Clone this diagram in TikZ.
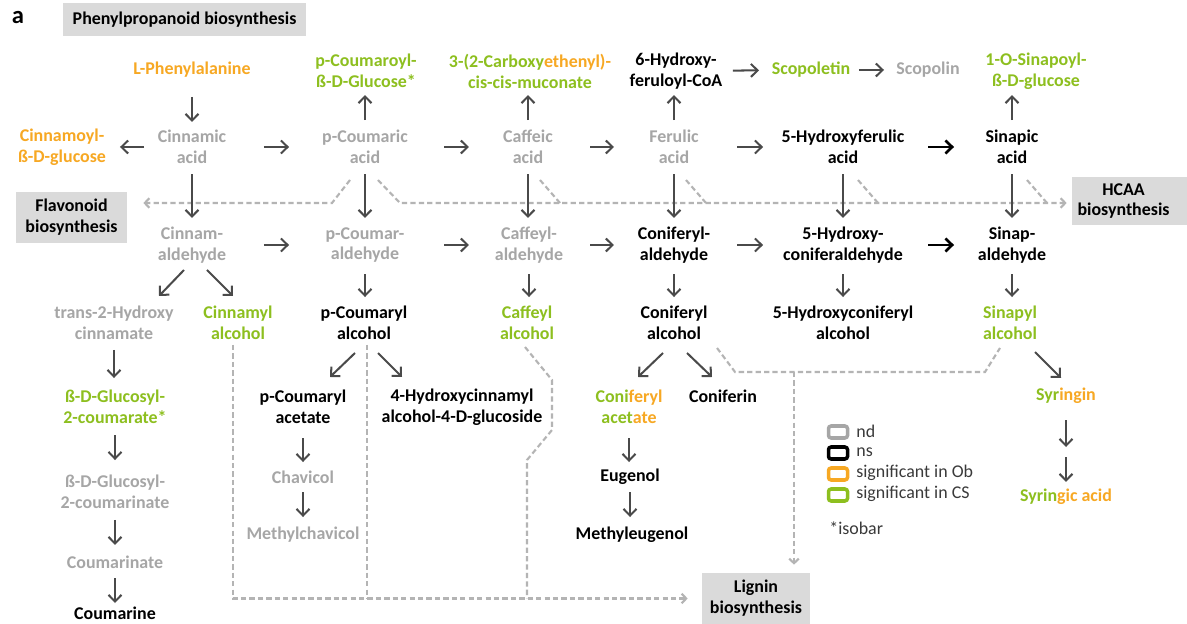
\documentclass[tikz,border=0pt]{standalone}
\usepackage{fontspec}
\setmainfont{Carlito}
\usetikzlibrary{arrows.meta,calc}
\definecolor{ora}{HTML}{F7A823}
\definecolor{grn}{HTML}{8DBF1F}
\definecolor{gtxt}{HTML}{A6A6A6}
\definecolor{arr}{HTML}{4A4A4A}
\definecolor{dsh}{HTML}{B4B4B4}
\definecolor{boxbg}{HTML}{DADADA}
\definecolor{legc}{HTML}{3A3A3A}
\newcommand\lf{\fontsize{10.2pt}{11.9pt}\selectfont}
\newcommand\cn[5][]{\draw[ar,#1] ($(#2)!#4!(#3)$) -- ($(#2)!#5!(#3)$);}
\tikzset{
  lbl/.style={font=\lf\bfseries, align=center, inner sep=0pt},
  nd/.style={text=gtxt}, ns/.style={text=black}, ob/.style={text=ora}, cs/.style={text=grn},
  gbox/.style={fill=boxbg, font=\lf\bfseries, align=center, inner sep=0pt, text=black},
  ar/.style={draw=arr, line width=1.15pt, -{Straight Barb[length=3.8pt,width=7.4pt]}},
  blk/.style={draw=black, line width=1.5pt},
  dl/.style={draw=dsh, line width=1.2pt, dash pattern=on 3pt off 1.8pt},
  dla/.style={dl, -{Straight Barb[length=2.6pt,width=5.5pt]}},
  leg/.style={font=\lf, text=legc, anchor=west, inner sep=0pt},
  lsq/.style={rounded corners=1.5pt, line width=2pt, fill=white, minimum width=19*0.02cm, minimum height=12*0.02cm, inner sep=0pt}
}
\begin{document}
\begin{tikzpicture}[x=0.02cm,y=-0.02cm]
\useasboundingbox (0,0) rectangle (1187,624);
\fill[white] (0,0) rectangle (1187,624);
% boxes
\node[font=\fontsize{14pt}{16pt}\selectfont\bfseries] (lab) at (18,18) {a};
\node[gbox, minimum width=243*0.02cm, minimum height=33*0.02cm] (title) at (184.5,19.5) {Phenylpropanoid biosynthesis};
\node[gbox, minimum width=111*0.02cm, minimum height=51*0.02cm] (flav) at (71.5,217.5) {Flavonoid\\biosynthesis};
\fill[boxbg] (1072,177) rectangle (1187,225);
\node[gbox, minimum width=103*0.02cm, minimum height=48*0.02cm] (hcaa) at (1123.5,201) {HCAA\\biosynthesis};
\node[gbox, minimum width=108*0.02cm, minimum height=51*0.02cm] (lig) at (756,598.5) {Lignin\\biosynthesis};
% row 1
\node[lbl,ob] (lphe) at (192,70) {L-Phenylalanine};
\node[lbl,cs] (pcglc) at (366,71) {p-Coumaroyl-\\ß-D-Glucose*};
\node[lbl,cs] (carb) at (530,71) {3-(2-Carboxy\textcolor{ora}{ethenyl)-}\\cis-cis-muconate};
\node[lbl,ns] (hfcoa) at (676,71) {6-Hydroxy-\\feruloyl-CoA};
\node[lbl,cs] (scopt) at (811,70) {Scopoletin};
\node[lbl,nd] (scopn) at (928,70) {Scopolin};
\node[lbl,cs] (singlc) at (1036,71) {1-O-Sinapoyl-\\ß-D-glucose};
% row 2
\node[lbl,ob] (cinglc) at (62,147) {Cinnamoyl-\\ß-D-glucose};
\node[lbl,nd] (cinac) at (192,147) {Cinnamic\\acid};
\node[lbl,nd] (pcac) at (365,147) {p-Coumaric\\acid};
\node[lbl,nd] (cafac) at (528,147) {Caffeic\\acid};
\node[lbl,nd] (ferac) at (674,147) {Ferulic\\acid};
\node[lbl,ns] (hfac) at (843,147) {5-Hydroxyferulic\\acid};
\node[lbl,ns] (sinac) at (1012,147) {Sinapic\\acid};
% row 3
\node[lbl,nd] (cinald) at (192,245) {Cinnam-\\aldehyde};
\node[lbl,nd] (pcald) at (365,245) {p-Coumar-\\aldehyde};
\node[lbl,nd] (cafald) at (529,245) {Caffeyl-\\aldehyde};
\node[lbl,ns] (conald) at (674,245) {Coniferyl-\\aldehyde};
\node[lbl,ns] (hcald) at (843,245) {5-Hydroxy-\\coniferaldehyde};
\node[lbl,ns] (sinald) at (1012,245) {Sinap-\\aldehyde};
% row 4
\node[lbl,nd] (t2h) at (114,323) {trans-2-Hydroxy\\cinnamate};
\node[lbl,cs] (cinoh) at (238,323) {Cinnamyl\\alcohol};
\node[lbl,ns] (pcoh) at (364,323) {p-Coumaryl\\alcohol};
\node[lbl,cs] (cafoh) at (527,323) {Caffeyl\\alcohol};
\node[lbl,ns] (conoh) at (674,323) {Coniferyl\\alcohol};
\node[lbl,ns] (hcoh) at (843,323) {5-Hydroxyconiferyl\\alcohol};
\node[lbl,cs] (sinoh) at (1010,323) {Sinapyl\\alcohol};
% row 5
\node[lbl,cs] (glccm) at (115,407) {ß-D-Glucosyl-\\2-coumarate*};
\node[lbl,ns] (pcacet) at (303,407) {p-Coumaryl\\acetate};
\node[lbl,ns] (hcglc) at (462,407) {4-Hydroxycinnamyl\\alcohol-4-D-glucoside};
\node[lbl,cs] (conacet) at (629,407) {Coni\textcolor{ora}{feryl}\\acet\textcolor{ora}{ate}};
\node[lbl,ns] (conin) at (723,396) {Coniferin};
\node[lbl,cs] (syrin) at (1066,396) {Syr\textcolor{ora}{ingin}};
% rows 6-7
\node[lbl,nd] (glccmn) at (115,492) {ß-D-Glucosyl-\\2-coumarinate};
\node[lbl,nd] (chav) at (303,477) {Chavicol};
\node[lbl,ns] (eug) at (630,477) {Eugenol};
\node[lbl,cs] (syrac) at (1066,497) {Syrin\textcolor{ora}{gic acid}};
\node[lbl,nd] (cmnt) at (115,562) {Coumarinate};
\node[lbl,nd] (mchav) at (303,535) {Methylchavicol};
\node[lbl,ns] (meug) at (632,535) {Methyleugenol};
\node[lbl,ns] (cmne) at (115,613) {Coumarine};
% legend
\node[lsq,draw=gtxt] (snd) at (838,432) {};
\node[lsq,draw=black] (sns) at (838,453) {};
\node[lsq,draw=ora] (sob) at (838,474) {};
\node[lsq,draw=grn] (scs) at (838,495) {};
\node[leg] (tnd) at (856,431) {nd};
\node[leg] (tns) at (856,452) {ns};
\node[leg] (tob) at (856,473) {significant in Ob};
\node[leg] (tcs) at (856,494) {significant in CS};
\node[leg] (iso) at (829,528) {*isobar};
% dashed connectors
\draw[dla] ($(pcac)+(-15,33)$) -- ($(pcac)+(-33,56)$) coordinate (fc) -- ($(flav.east |- fc)+(16,0)$);
\draw[dla] ($(pcac)+(13,33)$) -- ($(pcac)+(35,56)$) coordinate (hc) -- ($(hcaa.west |- hc)+(-5,0)$);
\foreach \nn/\dx in {cafac/12, ferac/12, hfac/15, sinac/15} \draw[dl] ($(\nn)+(\dx,33)$) -- ++(20,23);
\draw[dla] ($(cinoh)+(-5,22)$) |- ($(lig.west)+(-14,0)$);
\draw[dl] ($(pcoh)+(3,22)$) coordinate (p1) -- (p1 |- lig.west);
\draw[dl] ($(cafoh)+(-2,24)$) -- ++(27,33) -- ++(0,50) -- ++(-25,30) coordinate (c2) -- (c2 |- lig.west);
\draw[dl] ($(conoh)+(43,25)$) -- ++(18,24) -- ($(sinoh)+(-25,49)$) -- ($(sinoh)+(-10,25)$);
\draw[dla] ($(conoh)+(120,49)$) -- ($(lig.north)+(38,-8)$);
% solid arrows
\cn{lphe}{cinac}{0.35}{0.675}
\cn{cinac}{cinglc}{0.369}{0.554}
\cn{cinac}{pcac}{0.416}{0.561}
\cn{pcac}{pcac|-pcglc}{0.355}{0.684}
\cn{pcac}{cafac}{0.485}{0.638}
\cn{cafac}{cafac|-carb}{0.355}{0.684}
\cn{cafac}{ferac}{0.425}{0.589}
\cn{ferac}{ferac|-hfcoa}{0.355}{0.684}
\cn{hfcoa}{scopt}{0.422}{0.615}
\cn{scopt}{scopn}{0.41}{0.624}
\cn{ferac}{hfac}{0.373}{0.527}
\cn[blk]{hfac}{sinac}{0.503}{0.657}
\cn{sinac}{sinac|-singlc}{0.355}{0.684}
\cn{cinac}{cinald}{0.276}{0.724}
\cn{pcac}{pcald}{0.276}{0.724}
\cn{cafac}{cafac|-cafald}{0.276}{0.724}
\cn{ferac}{conald}{0.276}{0.724}
\cn{hfac}{hcald}{0.276}{0.724}
\cn{sinac}{sinald}{0.276}{0.724}
\cn{cinald}{pcald}{0.416}{0.561}
\cn{pcald}{cafald}{0.482}{0.634}
\cn{cafald}{conald}{0.421}{0.586}
\cn{conald}{hcald}{0.373}{0.527}
\cn[blk]{hcald}{sinald}{0.503}{0.657}
\draw[ar] ($(cinald)+(-8,25)$) -- ($(t2h)+(45,-27)$);
\draw[ar] ($(cinald)+(15,25)$) -- ($(cinoh)+(-5,-27)$);
\cn{pcald}{pcald|-pcoh}{0.372}{0.667}
\cn{cafald}{cafald|-cafoh}{0.372}{0.667}
\cn{conald}{conoh}{0.372}{0.667}
\cn{hcald}{hcoh}{0.372}{0.667}
\cn{sinald}{sinald|-sinoh}{0.372}{0.667}
\cn{t2h}{t2h|-glccm}{0.32}{0.655}
\draw[ar] ($(pcoh)+(-9,30)$) -- ($(pcacet)+(27,-30)$);
\draw[ar] ($(pcoh)+(14,30)$) -- ($(hcglc)+(-60,-30)$);
\draw[ar] ($(conoh)+(-11,30)$) -- ($(conacet)+(9,-30)$);
\draw[ar] ($(conoh)+(13,30)$) -- ($(conin)+(-11,-19)$);
\draw[ar] ($(sinoh)+(25,29)$) -- ($(syrin)+(-5,-18)$);
\cn{glccm}{glccmn}{0.33}{0.624}
\cn{glccmn}{cmnt}{0.4}{0.757}
\cn{cmnt}{cmne}{0.314}{0.804}
\cn{pcacet}{chav}{0.443}{0.786}
\cn{chav}{mchav}{0.259}{0.69}
\cn{conacet}{conacet|-eug}{0.443}{0.786}
\cn{eug}{eug|-meug}{0.259}{0.69}
\cn{syrin}{syrac}{0.238}{0.505}
\cn{syrin}{syrac}{0.604}{0.851}
\end{tikzpicture}
\end{document}
